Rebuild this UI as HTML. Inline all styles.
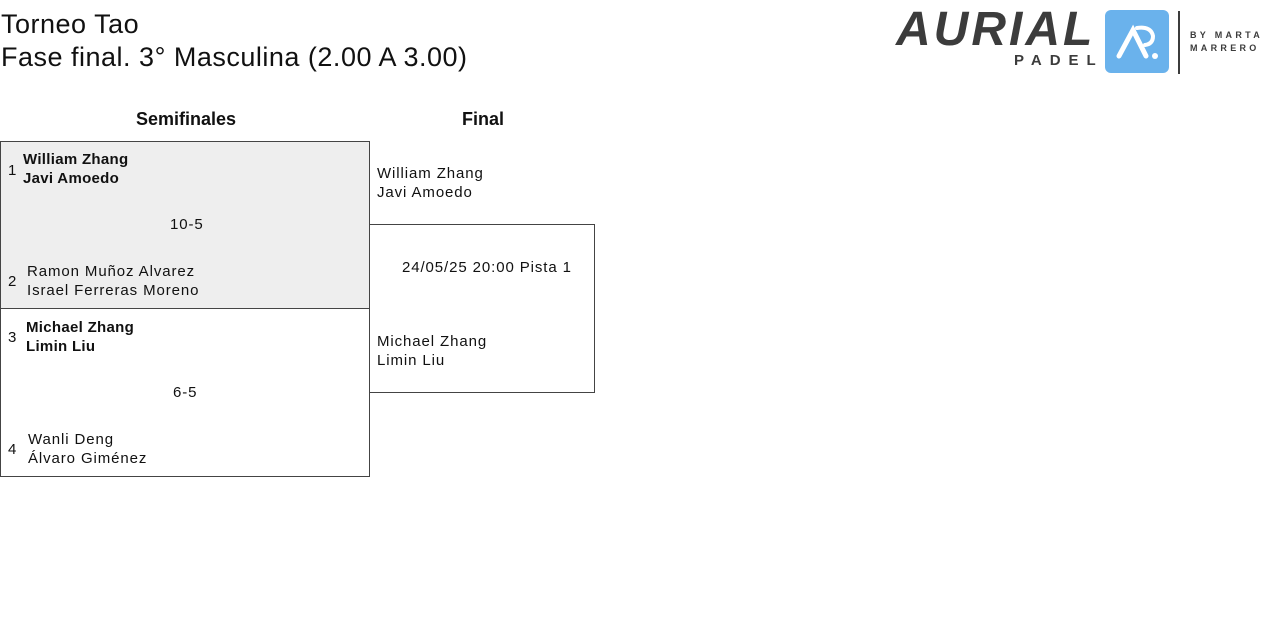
<!DOCTYPE html>
<html><head><meta charset="utf-8"><style>
body{margin:0;width:1280px;height:628px;background:#fff;font-family:"Liberation Sans",sans-serif;color:#111;position:relative;overflow:hidden}
.a{position:absolute;white-space:nowrap}
.t{font-size:27px;line-height:33px;letter-spacing:0.5px}
.s{font-size:15px;line-height:19px;letter-spacing:0.9px}
.b{font-weight:bold}
.s.b{letter-spacing:0.3px}
.box{position:absolute;border:1px solid #444;box-sizing:border-box}
</style></head><body>
<div class="a t" style="left:1px;top:8px">Torneo Tao</div>
<div class="a t" style="left:1px;top:41px">Fase final. 3° Masculina (2.00 A 3.00)</div>

<div class="a b" style="left:896px;top:2px;font-size:48px;font-style:italic;color:#3c3c3c;letter-spacing:3px;line-height:56px">AURIAL</div>
<div class="a b" style="left:1014px;top:52px;font-size:15px;color:#3c3c3c;letter-spacing:8px">PADEL</div>
<div class="a" style="left:1105px;top:10px;width:64px;height:63px;background:#6ab2ec;border-radius:6px"></div>
<svg class="a" style="left:1105px;top:10px" width="64" height="63"><path d="M14 46 L28 20 L41 46" stroke="#fff" stroke-width="5" fill="none" stroke-linecap="round"/><path d="M32 18 Q46 16 48 26 Q48 34 40 35" stroke="#fff" stroke-width="4" fill="none" stroke-linecap="round"/><circle cx="50" cy="46" r="3" fill="#fff"/></svg>
<div class="a" style="left:1178px;top:11px;width:2px;height:63px;background:#3c3c3c"></div>
<div class="a b" style="left:1190px;top:29px;font-size:9px;letter-spacing:3.3px;color:#3c3c3c;line-height:13px">BY MARTA<br>MARRERO</div>

<div class="a" style="left:136px;top:109px;font-size:18px;font-weight:bold">Semifinales</div>
<div class="a" style="left:462px;top:109px;font-size:18px;font-weight:bold">Final</div>

<div class="box" style="left:0;top:141px;width:370px;height:168px;background:#eee"></div>
<div class="box" style="left:0;top:308px;width:370px;height:169px"></div>
<div class="box" style="left:369px;top:224px;width:226px;height:169px"></div>

<div class="a s" style="left:8px;top:161px">1</div>
<div class="a s b" style="left:23px;top:150px">William Zhang<br>Javi Amoedo</div>
<div class="a s" style="left:170px;top:215px">10-5</div>
<div class="a s" style="left:8px;top:272px">2</div>
<div class="a s" style="left:27px;top:262px">Ramon Muñoz Alvarez<br>Israel Ferreras Moreno</div>

<div class="a s" style="left:8px;top:328px">3</div>
<div class="a s b" style="left:26px;top:318px">Michael Zhang<br>Limin Liu</div>
<div class="a s" style="left:173px;top:383px">6-5</div>
<div class="a s" style="left:8px;top:440px">4</div>
<div class="a s" style="left:28px;top:430px">Wanli Deng<br>Álvaro Giménez</div>

<div class="a s" style="left:377px;top:164px">William Zhang<br>Javi Amoedo</div>
<div class="a s" style="left:402px;top:258px">24/05/25 20:00 Pista 1</div>
<div class="a s" style="left:377px;top:332px">Michael Zhang<br>Limin Liu</div>
</body></html>
